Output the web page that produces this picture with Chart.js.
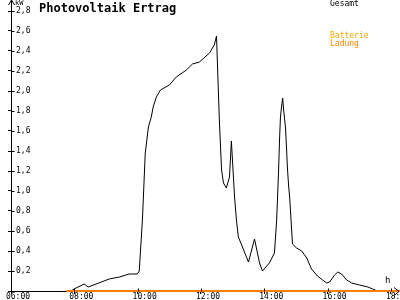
<!DOCTYPE html>
<html><head><meta charset="utf-8">
<script src="https://cdn.jsdelivr.net/npm/chart.js@4"></script>
<style>
html,body{margin:0;padding:0;background:#fff;}
#wrap{position:relative;width:400px;height:300px;overflow:hidden;background:#fff;}
canvas{position:absolute;left:0;top:0;}
.t{position:absolute;white-space:nowrap;font-family:"DejaVu Sans Mono",monospace;line-height:1;}
</style></head><body>
<div id="wrap">
<canvas id="c" width="400" height="300"></canvas>
<div class="t" style="left:39px;top:2px;font-size:12px;font-weight:bold;color:#000">Photovoltaik Ertrag</div>
<div class="t" style="left:330px;top:0px;font-size:8px;color:#000">Gesamt</div>
<div class="t" style="left:330px;top:32px;font-size:8px;color:#f5a800">Batterie</div>
<div class="t" style="left:330px;top:40px;font-size:8px;color:#ff8400">Ladung</div>
<div class="t" style="left:15px;top:0px;font-size:7px;color:#000">kW</div>
<div class="t" style="left:385px;top:276px;font-size:9px;color:#000">h</div>
</div>
<script>
// Gesamt (total PV output), hours of day and kW
const gesamtHours = [7.90, 7.99, 8.31, 8.44, 9.10, 9.42, 9.73, 9.99, 10.05, 10.15, 10.24, 10.34, 10.43, 10.49, 10.59, 10.72, 11.00, 11.22, 11.54, 11.73, 11.95, 12.27, 12.42, 12.49, 12.58, 12.65, 12.71, 12.80, 12.90, 12.96, 13.06, 13.12, 13.18, 13.31, 13.50, 13.69, 13.85, 13.94, 14.16, 14.32, 14.39, 14.45, 14.48, 14.51, 14.54, 14.58, 14.61, 14.67, 14.70, 14.73, 14.77, 14.80, 14.89, 15.02, 15.18, 15.34, 15.49, 15.68, 15.84, 15.97, 16.06, 16.22, 16.32, 16.44, 16.60, 16.76, 17.01, 17.27, 17.42, 17.58];
const gesamtValues = [0.00, 0.02, 0.07, 0.04, 0.12, 0.14, 0.17, 0.17, 0.20, 0.71, 1.38, 1.64, 1.74, 1.84, 1.94, 2.01, 2.06, 2.14, 2.21, 2.27, 2.29, 2.38, 2.46, 2.55, 1.71, 1.21, 1.08, 1.03, 1.14, 1.50, 0.94, 0.71, 0.54, 0.44, 0.29, 0.52, 0.28, 0.20, 0.28, 0.38, 0.71, 1.20, 1.51, 1.74, 1.83, 1.93, 1.81, 1.63, 1.44, 1.23, 1.04, 0.94, 0.47, 0.43, 0.40, 0.33, 0.22, 0.15, 0.11, 0.08, 0.09, 0.16, 0.19, 0.17, 0.11, 0.08, 0.06, 0.04, 0.02, 0.00];
// Batterie Ladung (battery charging)
const ladungHours = [7.75, 18.30];
const ladungValues = [0, 0];
// Axis ticks
const xTickHours = [6, 8, 10, 12, 14, 16, 18];
const yTickValues = [0, 0.2, 0.4, 0.6, 0.8, 1.0, 1.2, 1.4, 1.6, 1.8, 2.0, 2.2, 2.4, 2.6, 2.8];

const toPts = (xs, ys) => xs.map((h, i) => ({x: h, y: ys[i]}));
const mono = '"DejaVu Sans Mono", monospace';

const axisDeco = {
  id: 'axisDeco',
  afterDraw(chart) {
    const {ctx, chartArea: a, scales: {x, y}} = chart;
    ctx.save();
    ctx.strokeStyle = '#000';
    ctx.lineWidth = 1;
    const ax = Math.round(a.left) + 0.5;
    const ay = Math.round(a.bottom) + 0.5;
    ctx.beginPath(); ctx.moveTo(ax, a.top); ctx.lineTo(ax, 0); ctx.stroke();
    ctx.beginPath(); ctx.moveTo(ax - 3, 5); ctx.lineTo(ax, 0); ctx.lineTo(ax + 3, 5); ctx.stroke();
    y.ticks.forEach(t => {
      if (t.value === 0) return;
      const py = Math.round(y.getPixelForValue(t.value)) + 0.5;
      ctx.beginPath(); ctx.moveTo(ax, py); ctx.lineTo(ax + 3, py); ctx.stroke();
    });
    x.ticks.forEach(t => {
      const px = Math.round(x.getPixelForValue(t.value)) + 0.5;
      ctx.beginPath(); ctx.moveTo(px, ay); ctx.lineTo(px, ay - 3); ctx.stroke();
    });
    ctx.beginPath(); ctx.moveTo(394, ay - 4); ctx.lineTo(399, ay); ctx.lineTo(394, ay + 4); ctx.stroke();
    ctx.restore();
  }
};

new Chart(document.getElementById('c'), {
  type: 'line',
  data: {
    datasets: [
      {label: 'Batterie Ladung', data: toPts(ladungHours, ladungValues), borderColor: '#ff8000', borderWidth: 2, pointRadius: 0, tension: 0, order: 0, clip: false},
      {label: 'Gesamt', data: toPts(gesamtHours, gesamtValues), borderColor: '#000', borderWidth: 1, pointRadius: 0, tension: 0, order: 1}
    ]
  },
  options: {
    responsive: false,
    animation: false,
    devicePixelRatio: 1,
    layout: {padding: {top: 11, left: 8, right: 0, bottom: 0}},
    plugins: {legend: {display: false}, tooltip: {enabled: false}, title: {display: false}},
    scales: {
      x: {
        type: 'linear', min: 6, max: 18.285,
        afterBuildTicks: s => { s.ticks = xTickHours.map(v => ({value: v})); },
        afterFit: s => { s.paddingLeft = 0; s.paddingRight = 0; s.height = 9; },
        ticks: {
          autoSkip: false, maxRotation: 0, padding: -1, labelOffset: 7,
          color: '#000', font: {family: mono, size: 8, lineHeight: 1},
          callback: v => String(v).padStart(2, '0') + ':00'
        },
        grid: {drawOnChartArea: false, drawTicks: true, tickLength: 3, color: '#000'},
        border: {display: true, color: '#000', width: 1}
      },
      y: {
        min: 0, max: 2.8,
        afterBuildTicks: s => { s.ticks = yTickValues.map(v => ({value: v})); },
        afterFit: s => { s.width = 3; },
        ticks: {
          mirror: true, padding: 5, color: '#000', font: {family: mono, size: 8, lineHeight: 1},
          callback: v => v === 0 ? '' : v.toFixed(1).replace('.', ',')
        },
        grid: {drawOnChartArea: false, drawTicks: true, tickLength: 3, color: '#000'},
        border: {display: true, color: '#000', width: 1}
      }
    }
  },
  plugins: [axisDeco]
});
</script>
</body></html>
